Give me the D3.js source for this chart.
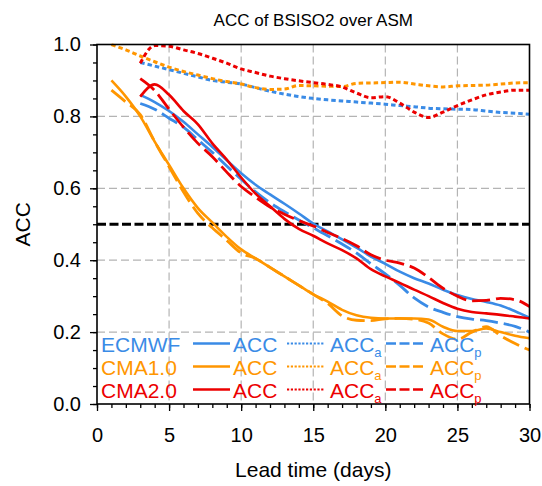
<!DOCTYPE html>
<html>
<head>
<meta charset="utf-8">
<script src="https://cdn.jsdelivr.net/npm/d3@7"></script>
<style>
  body { margin: 0; background: #fff; }
  text { font-family: "Liberation Sans", Arial, Helvetica, sans-serif; }
</style>
</head>
<body>
<script>
// lead days 1..30, null where a series has no value
const leadDays = d3.range(1, 31);

const ecmwfAcc  = [null, null, 0.86, 0.84, 0.815, 0.785, 0.75, 0.715, 0.678, 0.642, 0.61, 0.583, 0.557, 0.53, 0.502,
                   0.48, 0.458, 0.435, 0.41, 0.39, 0.368, 0.35, 0.335, 0.318, 0.303, 0.292, 0.284, 0.274, 0.258, 0.24];
const ecmwfAccA = [null, null, 0.95, 0.94, 0.93, 0.92, 0.91, 0.90, 0.895, 0.89, 0.88, 0.87, 0.862, 0.855, 0.85,
                   0.846, 0.843, 0.84, 0.837, 0.834, 0.83, 0.827, 0.823, 0.821, 0.82, 0.819, 0.815, 0.811, 0.809, 0.806];
const ecmwfAccP = [null, null, 0.836, 0.82, 0.795, 0.77, 0.735, 0.70, 0.662, 0.625, 0.59, 0.56, 0.535, 0.512, 0.49,
                   0.468, 0.445, 0.42, 0.39, 0.362, 0.33, 0.295, 0.27, 0.255, 0.243, 0.236, 0.232, 0.225, 0.216, 0.20];

const cma1Acc  = [0.90, 0.855, 0.80, 0.73, 0.665, 0.60, 0.545, 0.505, 0.465, 0.43, 0.405, 0.38, 0.355, 0.33, 0.305,
                  0.285, 0.262, 0.247, 0.24, 0.238, 0.238, 0.238, 0.235, 0.215, 0.203, 0.203, 0.21, 0.20, 0.19, 0.183];
const cma1AccA = [1.0, 0.985, 0.968, 0.952, 0.937, 0.925, 0.915, 0.905, 0.897, 0.89, 0.88, 0.875, 0.876, 0.886, 0.885,
                  0.884, 0.883, 0.892, 0.893, 0.894, 0.895, 0.89, 0.885, 0.882, 0.885, 0.886, 0.887, 0.89, 0.893, 0.894];
const cma1AccP = [0.873, 0.84, 0.805, 0.73, 0.66, 0.59, 0.53, 0.49, 0.455, 0.42, 0.405, 0.38, 0.355, 0.33, 0.305,
                  0.28, 0.245, 0.233, 0.232, 0.237, 0.238, 0.236, 0.225, 0.195, 0.18, 0.20, 0.215, 0.19, 0.168, 0.15];

const cma2Acc  = [null, null, 0.855, 0.889, 0.86, 0.815, 0.778, 0.725, 0.68, 0.63, 0.585, 0.55, 0.515, 0.487, 0.468,
                  0.447, 0.428, 0.405, 0.375, 0.355, 0.337, 0.318, 0.30, 0.281, 0.265, 0.256, 0.252, 0.248, 0.243, 0.238];
const cma2AccA = [null, null, 0.948, 0.997, 0.995, 0.985, 0.975, 0.962, 0.948, 0.932, 0.922, 0.912, 0.905, 0.899, 0.894,
                  0.889, 0.882, 0.865, 0.852, 0.855, 0.837, 0.812, 0.797, 0.812, 0.83, 0.846, 0.86, 0.868, 0.873, 0.873];
const cma2AccP = [null, null, 0.905, 0.872, 0.82, 0.77, 0.725, 0.688, 0.645, 0.605, 0.575, 0.548, 0.528, 0.51, 0.495,
                  0.477, 0.46, 0.44, 0.415, 0.40, 0.392, 0.378, 0.352, 0.322, 0.30, 0.287, 0.288, 0.294, 0.29, 0.271];

const xTicks = [0, 5, 10, 15, 20, 25, 30];
const yTicks = [0.0, 0.2, 0.4, 0.6, 0.8, 1.0];
const refLevel = 0.5;

const modelNames = ['ECMWF', 'CMA1.0', 'CMA2.0'];
const modelColors = ['#3a8be6', '#ff9600', '#ec0000'];

const series = [
  {model: 0, kind: 'a', values: ecmwfAccA},
  {model: 0, kind: 'p', values: ecmwfAccP},
  {model: 0, kind: '',  values: ecmwfAcc},
  {model: 1, kind: 'a', values: cma1AccA},
  {model: 1, kind: 'p', values: cma1AccP},
  {model: 1, kind: '',  values: cma1Acc},
  {model: 2, kind: 'a', values: cma2AccA},
  {model: 2, kind: 'p', values: cma2AccP},
  {model: 2, kind: '',  values: cma2Acc}
];

const dashFor = {'': null, 'a': '4.5,3', 'p': '18,6'};
const widthFor = {'': 2.6, 'a': 3, 'p': 2.8};

const W = 542, H = 486;
const plotLeft = 97, plotTop = 44.5, plotW = 432.5, plotH = 359.5;

const svg = d3.select('body').append('svg')
  .attr('width', W).attr('height', H);

const x = d3.scaleLinear().domain([0, 30]).range([plotLeft, plotLeft + plotW]);
const y = d3.scaleLinear().domain([0, 1]).range([plotTop + plotH, plotTop]);

// grid
const grid = svg.append('g').attr('stroke', '#b4b4b4').attr('stroke-width', 1.2)
  .attr('stroke-dasharray', '8,4');
grid.selectAll('.gx').data(xTicks.slice(1, -1)).enter().append('line')
  .attr('x1', d => x(d)).attr('x2', d => x(d)).attr('y1', plotTop).attr('y2', plotTop + plotH);
grid.selectAll('.gy').data(yTicks.slice(1, -1)).enter().append('line')
  .attr('y1', d => y(d)).attr('y2', d => y(d)).attr('x1', plotLeft).attr('x2', plotLeft + plotW);

// 0.5 reference line
svg.append('line')
  .attr('x1', x(0)).attr('x2', x(30)).attr('y1', y(refLevel)).attr('y2', y(refLevel))
  .attr('stroke', '#000').attr('stroke-width', 3).attr('stroke-dasharray', '9,3.5');

svg.append('clipPath').attr('id', 'clip').append('rect')
  .attr('x', plotLeft).attr('y', plotTop - 1).attr('width', plotW).attr('height', plotH + 1);

const line = d3.line()
  .defined(d => d[1] != null)
  .x(d => x(d[0])).y(d => y(d[1]))
  .curve(d3.curveMonotoneX);

svg.append('g').attr('clip-path', 'url(#clip)')
  .selectAll('path').data(series).enter().append('path')
  .attr('d', s => line(leadDays.map((day, i) => [day, s.values[i]])))
  .attr('fill', 'none')
  .attr('stroke', s => modelColors[s.model])
  .attr('stroke-width', s => widthFor[s.kind])
  .attr('stroke-dasharray', s => dashFor[s.kind]);

// axes
svg.append('g').attr('transform', `translate(0,${plotTop + plotH})`)
  .call(d3.axisBottom(x).tickValues(xTicks).tickSizeInner(7).tickSizeOuter(0).tickPadding(17)
    .tickFormat(d3.format('d')));
svg.append('g').attr('transform', `translate(0,${plotTop + plotH})`)
  .call(d3.axisBottom(x).tickValues(d3.range(0, 31)).tickSizeInner(4).tickSizeOuter(0).tickFormat(''));
svg.append('g').attr('transform', `translate(${plotLeft},0)`)
  .call(d3.axisLeft(y).tickValues(yTicks).tickSizeInner(7).tickSizeOuter(0).tickPadding(9)
    .tickFormat(d3.format('.1f')));
svg.append('g').attr('transform', `translate(${plotLeft},0)`)
  .call(d3.axisLeft(y).tickValues(d3.range(0, 21).map(i => i * 0.05)).tickSizeInner(4).tickSizeOuter(0).tickFormat(''));

svg.selectAll('.domain').remove();
svg.selectAll('.tick line').attr('stroke', '#000').attr('stroke-width', 1.3);
svg.selectAll('.tick text').attr('font-size', 20).attr('fill', '#000')
  .style('font-family', '"Liberation Sans", Arial, sans-serif');

// frame
svg.append('rect')
  .attr('x', plotLeft).attr('y', plotTop).attr('width', plotW).attr('height', plotH)
  .attr('fill', 'none').attr('stroke', '#000').attr('stroke-width', 1.6);

// titles
svg.append('text').attr('x', x(15)).attr('y', 26).attr('text-anchor', 'middle')
  .attr('font-size', 17).text('ACC of BSISO2 over ASM');
svg.append('text').attr('x', x(15)).attr('y', 477).attr('text-anchor', 'middle')
  .attr('font-size', 21).text('Lead time (days)');
svg.append('text').attr('transform', `translate(30,${y(0.5)}) rotate(-90)`)
  .attr('text-anchor', 'middle').attr('font-size', 21).text('ACC');

// legend
const legendY = [351.5, 374.5, 397.5];
const sampleX = [[193, 230, '', 233], [287, 325, 'a', 330], [386, 423, 'p', 430]];
const legendDash = {'': null, 'a': '2.2,1.6', 'p': '10,3.5'};

const rows = svg.append('g').selectAll('g').data(modelNames).enter().append('g')
  .attr('transform', (d, i) => `translate(0,${legendY[i]})`)
  .attr('fill', (d, i) => modelColors[i]);

rows.append('text').attr('x', 101).attr('y', 0).attr('font-size', 21).text(d => d);

sampleX.forEach(([x1, x2, kind, tx]) => {
  rows.append('line')
    .attr('x1', x1).attr('x2', x2).attr('y1', -8).attr('y2', -8)
    .attr('stroke', (d, i) => modelColors[i])
    .attr('stroke-width', kind === 'a' ? 2 : 2.4)
    .attr('stroke-dasharray', legendDash[kind]);
  const t = rows.append('text').attr('x', tx).attr('y', 0).attr('font-size', 21);
  t.append('tspan').text('ACC');
  if (kind) t.append('tspan').attr('dy', 5).attr('font-size', 13).text(kind);
});
</script>
</body>
</html>
